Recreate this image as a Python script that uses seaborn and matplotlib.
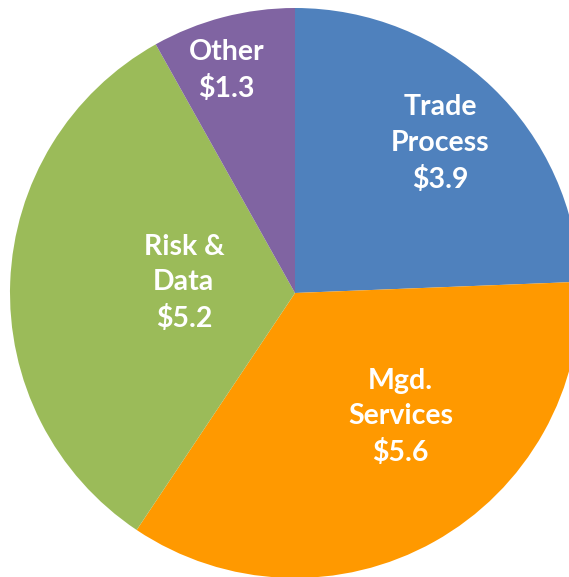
import matplotlib.pyplot as plt
import seaborn as sns

# Segment data (clockwise from 12 o'clock)
categories = ['Trade\nProcess', 'Mgd.\nServices', 'Risk &\nData', 'Other']
values = [3.9, 5.6, 5.2, 1.3]
colors = ['#4F81BD', '#FF9900', '#9BBB59', '#8064A2']

# Label anchor points in axes data units (radius = 1)
label_pos = [(0.51, 0.525), (0.37, -0.435), (-0.39, 0.035), (-0.24, 0.78)]

sns.set_style('white')
plt.rcParams['font.family'] = ['Lato', 'DejaVu Sans']

fig = plt.figure(figsize=(5.69, 5.77), dpi=100)
W, H = 569, 577
cx, cy, r = 295, 577 - 293, 285
ax = fig.add_axes([(cx - r) / W, (cy - r) / H, 2 * r / W, 2 * r / H])

ax.pie(values, colors=colors, startangle=90, counterclock=False,
       radius=1, wedgeprops=dict(linewidth=0))

for cat, val, (x, y) in zip(categories, values, label_pos):
    ax.text(x, y, f"{cat}\n${val:.1f}", ha='center', va='center',
            color='white', fontsize=20.5, fontweight='bold', linespacing=1.45)

ax.set_xlim(-1, 1)
ax.set_ylim(-1, 1)
ax.set_aspect('equal')
ax.axis('off')

fig.savefig('out.png', dpi=100)
plt.close(fig)
